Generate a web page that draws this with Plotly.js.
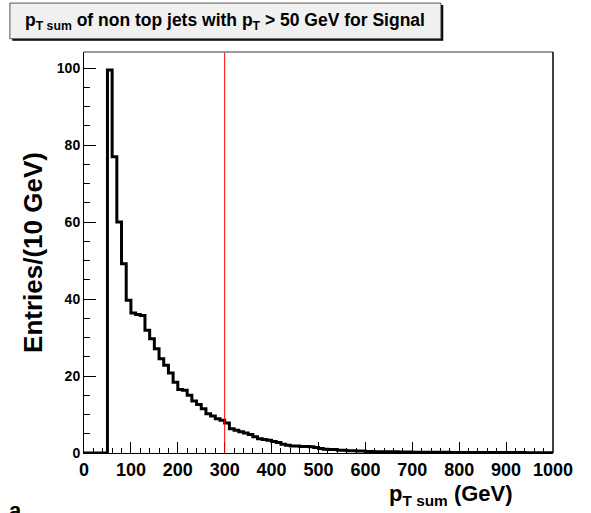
<!DOCTYPE html>
<html>
<head>
<meta charset="utf-8">
<script src="https://cdn.plot.ly/plotly-3.0.1.min.js"></script>
<style>html,body{margin:0;padding:0;background:#fff;}#plot{width:591px;height:513px;}</style>
</head>
<body>
<div id="plot"></div>
<script>
// Histogram: 10 GeV bins from 0 to 1000
var binWidth = 10;
var binStart = 0;
var counts = [
  0, 0, 0, 0, 0, 99.5, 77, 60, 49.2, 39.7,
  36.4, 36.0, 35.7, 31.9, 29.7, 27.1, 24.5, 22.8, 20.8, 18.4,
  16.5, 16.3, 15.0, 13.5, 12.6, 11.5, 10.2, 9.6, 8.9, 8.5,
  7.8, 6.3, 5.9, 5.5, 5.2, 4.8, 4.2, 3.7, 3.5, 3.3,
  3.0, 2.7, 2.3, 2.0, 1.8, 1.8, 1.7, 1.7, 1.6, 1.4,
  1.2, 1.0, 0.9, 0.9, 0.7, 0.7, 0.6, 0.6, 0.5, 0.5,
  0.4, 0.4, 0.35, 0.35, 0.3, 0.3, 0.3, 0.25, 0.25, 0.25,
  0.2, 0.2, 0.2, 0.2, 0.2, 0.18, 0.18, 0.18, 0.15, 0.15,
  0.15, 0.15, 0.15, 0.12, 0.12, 0.12, 0.12, 0.1, 0.1, 0.1,
  0.1, 0.1, 0.1, 0.1, 0.08, 0.08, 0.08, 0.08, 0.05, 0.05
];
var cutValue = 300;
var yMax = 104.2;
var xTicks = [0, 100, 200, 300, 400, 500, 600, 700, 800, 900, 1000];
var yTicks = [0, 20, 40, 60, 80, 100];
var titleText = "p<sub>T sum</sub> of non top jets with p<sub>T</sub> &gt; 50 GeV for Signal";
var xTitle = "p<sub>T sum</sub> (GeV)";
var yTitle = "Entries/(10 GeV)";
var cornerText = "a";

// build step outline from bin edges
var sx = [], sy = [];
sx.push(binStart); sy.push(0);
for (var i = 0; i < counts.length; i++) {
  sx.push(binStart + i * binWidth); sy.push(counts[i]);
}
sx.push(binStart + counts.length * binWidth); sy.push(0);

var font = "Liberation Sans, Arial, Helvetica, sans-serif";

var traces = [{
  x: sx, y: sy, type: 'scatter', mode: 'lines',
  line: {shape: 'hv', color: '#000', width: 3},
  hoverinfo: 'skip', showlegend: false, cliponaxis: false
}];

var layout = {
  width: 591, height: 513,
  margin: {l: 84, r: 38, t: 52, b: 60, pad: 0},
  paper_bgcolor: '#fff', plot_bgcolor: '#fff',
  showlegend: false,
  font: {family: font, color: '#000'},
  xaxis: {
    range: [0, 1000], tickvals: xTicks, ticktext: xTicks.map(String),
    ticks: 'inside', ticklen: 11, tickwidth: 1, tickcolor: '#000',
    minor: {dtick: 20, ticks: 'inside', ticklen: 5, tickcolor: '#000', showgrid: false},
    showgrid: false, zeroline: false, showline: true, linecolor: '#000', linewidth: 1,
    tickfont: {family: font, size: 18, color: '#000', weight: 'bold'}
  },
  yaxis: {
    range: [0, yMax], tickvals: yTicks, ticktext: yTicks.map(String),
    ticks: 'inside', ticklen: 12, tickwidth: 1, tickcolor: '#000',
    minor: {dtick: 5, ticks: 'inside', ticklen: 6, tickcolor: '#000', showgrid: false},
    showgrid: false, zeroline: false, showline: true, linecolor: '#000', linewidth: 1,
    tickfont: {family: font, size: 14, color: '#000', weight: 'bold'},
    title: {text: '<b>' + yTitle + '</b>', font: {family: font, size: 26, color: '#000'}, standoff: 6}
  },
  shapes: [
    {type: 'line', xref: 'x', yref: 'paper', x0: cutValue, x1: cutValue, y0: 0, y1: 1, line: {color: '#ff0000', width: 1}, layer: 'above'},
    {type: 'line', xref: 'paper', yref: 'paper', x0: 0, x1: 1, y0: 1, y1: 1, line: {color: '#777', width: 1.5}},
    {type: 'line', xref: 'paper', yref: 'paper', x0: 1, x1: 1, y0: 0, y1: 1, line: {color: '#000', width: 1.5}},
    // title box shadow + box
    {type: 'rect', xref: 'paper', yref: 'paper', x0: -0.153, x1: 0.766, y0: 1.028, y1: 1.117, fillcolor: '#000', line: {width: 0}, layer: 'above'},
    {type: 'rect', xref: 'paper', yref: 'paper', x0: -0.158, x1: 0.761, y0: 1.033, y1: 1.122, fillcolor: '#f0f0f0', line: {color: '#555', width: 1}, layer: 'above'}
  ],
  annotations: [
    {text: '<b>' + titleText + '</b>', xref: 'paper', yref: 'paper', x: 0.3, y: 1.075, xanchor: 'center', yanchor: 'middle', showarrow: false, font: {family: font, size: 17.5, color: '#000'}},
    {text: '<b>' + xTitle + '</b>', xref: 'paper', yref: 'paper', x: 0.919, y: -0.064, xanchor: 'right', yanchor: 'top', showarrow: false, font: {family: font, size: 22, color: '#000'}},
    {text: '<b>' + cornerText + '</b>', xref: 'paper', yref: 'paper', x: -0.147, y: -0.108, xanchor: 'center', yanchor: 'top', showarrow: false, font: {family: font, size: 22, color: '#000'}}
  ]
};

Plotly.newPlot('plot', traces, layout, {staticPlot: true, displayModeBar: false});
</script>
</body>
</html>
